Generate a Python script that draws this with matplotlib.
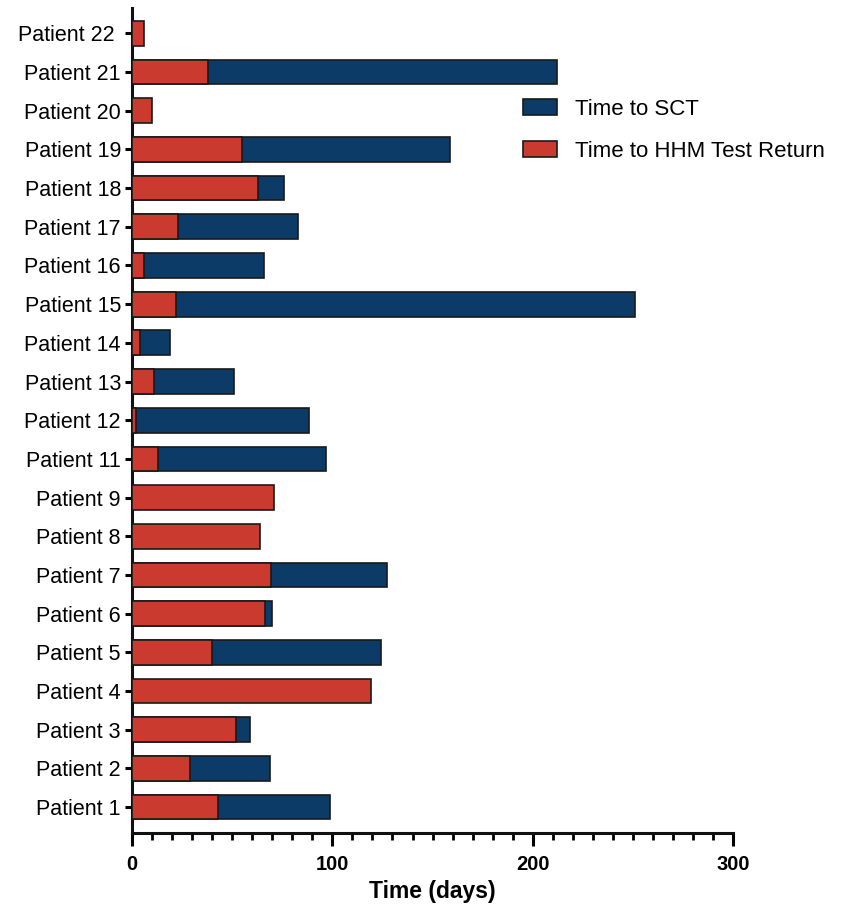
import numpy as np
import matplotlib
matplotlib.use("Agg")
import matplotlib.pyplot as plt
from matplotlib.ticker import MultipleLocator

plt.rcParams['font.family'] = ['Liberation Sans', 'DejaVu Sans']

# patients from bottom to top
patients = ['Patient 1', 'Patient 2', 'Patient 3', 'Patient 4', 'Patient 5',
            'Patient 6', 'Patient 7', 'Patient 8', 'Patient 9', 'Patient 11',
            'Patient 12', 'Patient 13', 'Patient 14', 'Patient 15', 'Patient 16',
            'Patient 17', 'Patient 18', 'Patient 19', 'Patient 20', 'Patient 21',
            'Patient 22 ']

# time to HHM test return (days)
hhm_days = [43, 29, 52, 119.5, 40, 66.5, 69.5, 64, 71, 13,
            2, 11, 4, 22, 6, 23, 63, 55, 10, 38, 6.2]

# time to SCT (days), 0 = no transplant
sct_days = [99, 69, 59, 0, 124.5, 70, 127.5, 0, 0, 97,
            88.5, 51, 19, 251, 66, 83, 76, 158.5, 0, 212, 0]

blue = '#0B3B66'
red = '#CB3A2F'

fig = plt.figure(figsize=(8.49, 9.08), dpi=100)
ax = fig.add_axes([0.1555, 0.0826, 0.708, 0.9084])

y = np.arange(len(patients))
h = 0.64
ax.barh(y, sct_days, height=h, color=blue, edgecolor='#1a1a1a', linewidth=1.2,
        label='Time to SCT', zorder=2)
ax.barh(y, hhm_days, height=h, color=red, edgecolor='#1a1a1a', linewidth=1.2,
        label='Time to HHM Test Return', zorder=3)

ax.set_xlim(0, 300)
ax.set_ylim(-0.67, len(patients) - 1 + 0.65)
ax.set_yticks(y)
ax.set_yticklabels(patients, fontsize=15.5)
ax.xaxis.set_major_locator(MultipleLocator(100))
ax.xaxis.set_minor_locator(MultipleLocator(10))

for s in ['top', 'right']:
    ax.spines[s].set_visible(False)
for s in ['left', 'bottom']:
    ax.spines[s].set_linewidth(2.2)
    ax.spines[s].set_color('#111111')

ax.tick_params(axis='y', length=5, width=2.2, pad=3)
ax.tick_params(axis='x', which='major', length=9, width=2.2, pad=7)
ax.tick_params(axis='x', which='minor', length=5, width=2.0)
for lab in ax.get_xticklabels():
    lab.set_fontweight('bold')
    lab.set_fontsize(14.5)

ax.set_xlabel('Time (days)', fontsize=16.5, fontweight='bold', labelpad=4)

ax.legend(loc='upper left', bbox_to_anchor=(0.616, 0.891),
          bbox_transform=fig.transFigure, frameon=False, fontsize=16,
          handlelength=1.53, handleheight=0.72, handletextpad=0.8,
          labelspacing=0.93, borderaxespad=0, borderpad=0)

fig.savefig('out.png', dpi=100)
